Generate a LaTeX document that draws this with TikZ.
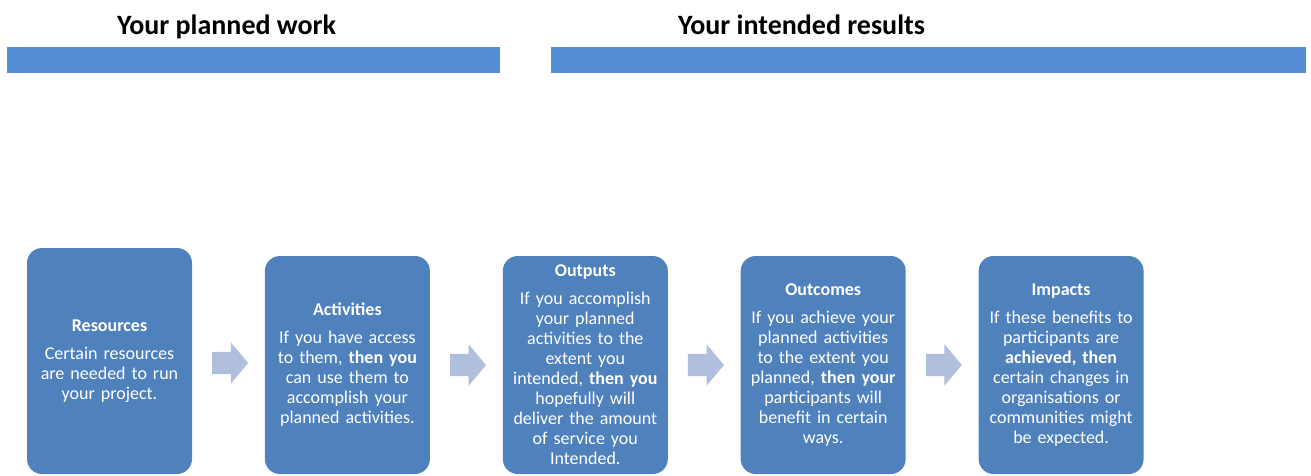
\documentclass[tikz,border=0pt]{standalone}
\usepackage{fontspec}
\setmainfont{Carlito}
\usetikzlibrary{positioning,shapes.arrows,calc}

\definecolor{barblue}{HTML}{558ED5}
\definecolor{boxblue}{HTML}{4F81BD}
\definecolor{arrowblue}{HTML}{B0BFDC}

\begin{document}
\begin{tikzpicture}[x=1pt, y=-1pt,
    heading/.style={anchor=base, inner sep=0pt, font=\fontsize{28}{32}\selectfont\bfseries},
    stage/.style={fill=boxblue, rounded corners=15pt, text=white, align=center,
        text width=160pt, minimum width=165pt, minimum height=218pt, inner sep=0pt,
        font=\fontsize{18}{20}\selectfont},
    flowarrow/.style={single arrow, fill=arrowblue, inner xsep=0pt, inner ysep=11pt,
        minimum height=36pt, single arrow head extend=9.5pt, single arrow tip angle=100,
        xshift=-3pt}]

    \useasboundingbox (0,0) rectangle (1311,475);

    % headings with their bars
    \node[heading] (planned) at (226.5,34) {Your planned work};
    \node[heading] (intended) at (801.5,34) {Your intended results};
    \fill[barblue] (7,47) rectangle (500,73); % planned work bar
    \fill[barblue] (551,47) rectangle (1306,73); % intended results bar

    % the five stages
    \node[stage, minimum height=226pt] (res) at (109.5,361)
        {\textbf{Resources}\\[8pt]
         Certain resources\\ are needed to run\\ your project.};
    \node[stage, right=72.5pt of res, yshift=-4pt] (act)
        {\textbf{Activities}\\[8pt]
         If you have access\\ to them, \textbf{then you}\\ can use them to\\
         accomplish your\\ planned activities.};
    \node[stage, right=72.5pt of act] (outp)
        {\textbf{Outputs}\\[8pt]
         If you accomplish\\ your planned\\ activities to the\\ extent you\\
         intended, \textbf{then you}\\ hopefully will\\ deliver the amount\\
         of service you\\ Intended.};
    \node[stage, right=72.5pt of outp] (outc)
        {\textbf{Outcomes}\\[8pt]
         If you achieve your\\ planned activities\\ to the extent you\\
         planned, \textbf{then your}\\ participants will\\ benefit in certain\\ ways.};
    \node[stage, right=72.5pt of outc] (imp)
        {\textbf{Impacts}\\[8pt]
         If these benefits to\\ participants are\\ \textbf{achieved, then}\\
         certain changes in\\ organisations or\\ communities might\\ be expected.};

    % arrows between the stages
    \node[flowarrow] (a1) at ($(res.east)!0.5!(act.west)$) {};
    \node[flowarrow] (a2) at ($(act.east)!0.5!(outp.west)$) {};
    \node[flowarrow] (a3) at ($(outp.east)!0.5!(outc.west)$) {};
    \node[flowarrow] (a4) at ($(outc.east)!0.5!(imp.west)$) {};

\end{tikzpicture}
\end{document}
